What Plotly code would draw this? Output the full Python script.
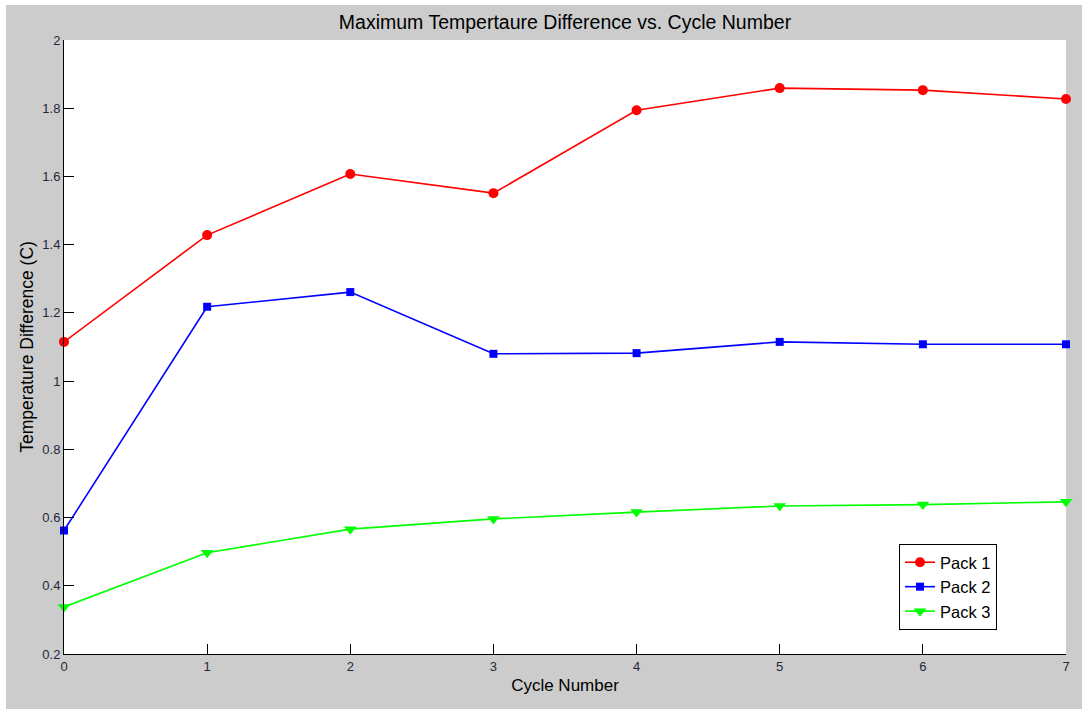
import plotly.graph_objects as go

# Cycle numbers and maximum temperature difference (C) per battery pack
cycles = [0, 1, 2, 3, 4, 5, 6, 7]
pack1 = [1.115, 1.428, 1.607, 1.551, 1.794, 1.859, 1.853, 1.827]
pack2 = [0.562, 1.218, 1.261, 1.080, 1.082, 1.115, 1.108, 1.108]
pack3 = [0.338, 0.497, 0.566, 0.596, 0.616, 0.634, 0.638, 0.646]

series_names = ["Pack 1", "Pack 2", "Pack 3"]
y_ticks = [0.2, 0.4, 0.6, 0.8, 1.0, 1.2, 1.4, 1.6, 1.8, 2.0]
y_tick_text = ["0.2", "0.4", "0.6", "0.8", "1", "1.2", "1.4", "1.6", "1.8", "2"]

W, H = 1082, 709
ML, MR, MT, MB = 64, 16, 40, 55
PW, PH = W - ML - MR, H - MT - MB

fig = go.Figure()
styles = [
    ("#ff0000", "circle", 10),
    ("#0000ff", "square", 8),
    ("#00ff00", "triangle-down", 11),
]
for name, ys, (col, sym, sz) in zip(series_names, [pack1, pack2, pack3], styles):
    fig.add_trace(go.Scatter(
        x=cycles, y=ys, name=name, mode="lines+markers",
        line=dict(color=col, width=1.6),
        marker=dict(color=col, symbol=sym, size=sz, line=dict(width=0)),
        cliponaxis=False,
    ))

tick_font = dict(family="Arial", size=13, color="#26263a")
fig.update_layout(
    width=W, height=H,
    margin=dict(l=ML, r=MR, t=MT, b=MB, pad=0),
    paper_bgcolor="#cccccc",
    plot_bgcolor="#ffffff",
    font=dict(family="Arial", color="#000000"),
    title=dict(text="Maximum Tempertaure Difference vs. Cycle Number",
               x=(ML + PW / 2) / W, xanchor="center", y=1 - 22 / H, yanchor="middle",
               font=dict(size=19.5, color="#000000")),
    xaxis=dict(range=[0, 7], dtick=1, tick0=0, showgrid=False, zeroline=False,
               showline=True, linecolor="#000000", linewidth=1, mirror=False,
               ticks="inside", ticklen=10, tickcolor="#000000", tickfont=tick_font,
               title=dict(text="Cycle Number", font=dict(size=17), standoff=6)),
    yaxis=dict(range=[0.2, 2.0], tickvals=y_ticks, ticktext=y_tick_text,
               showgrid=False, zeroline=False,
               showline=True, linecolor="#000000", linewidth=1, mirror=False,
               ticks="inside", ticklen=10, tickcolor="#000000", tickfont=tick_font,
               title=dict(text="Temperature Difference (C)", font=dict(size=17.5), standoff=4)),
    legend=dict(x=(899 - ML) / PW, y=(654 - 544) / PH, xanchor="left", yanchor="top",
                bgcolor="#ffffff", bordercolor="#000000", borderwidth=1,
                font=dict(size=16.5, color="#000000"), tracegroupgap=0,
                itemwidth=30),
    showlegend=True,
    shapes=[
        # thin white frame along top and left edges of the figure
        dict(type="rect", xref="paper", yref="paper", layer="below",
             x0=-ML / PW, x1=(W - ML) / PW, y0=1 + (MT - 5) / PH, y1=1 + MT / PH,
             fillcolor="#ffffff", line=dict(width=0)),
        dict(type="rect", xref="paper", yref="paper", layer="below",
             x0=-ML / PW, x1=-(ML - 6) / PW, y0=-MB / PH, y1=1 + MT / PH,
             fillcolor="#ffffff", line=dict(width=0)),
    ],
)

fig.write_html("out.html")
